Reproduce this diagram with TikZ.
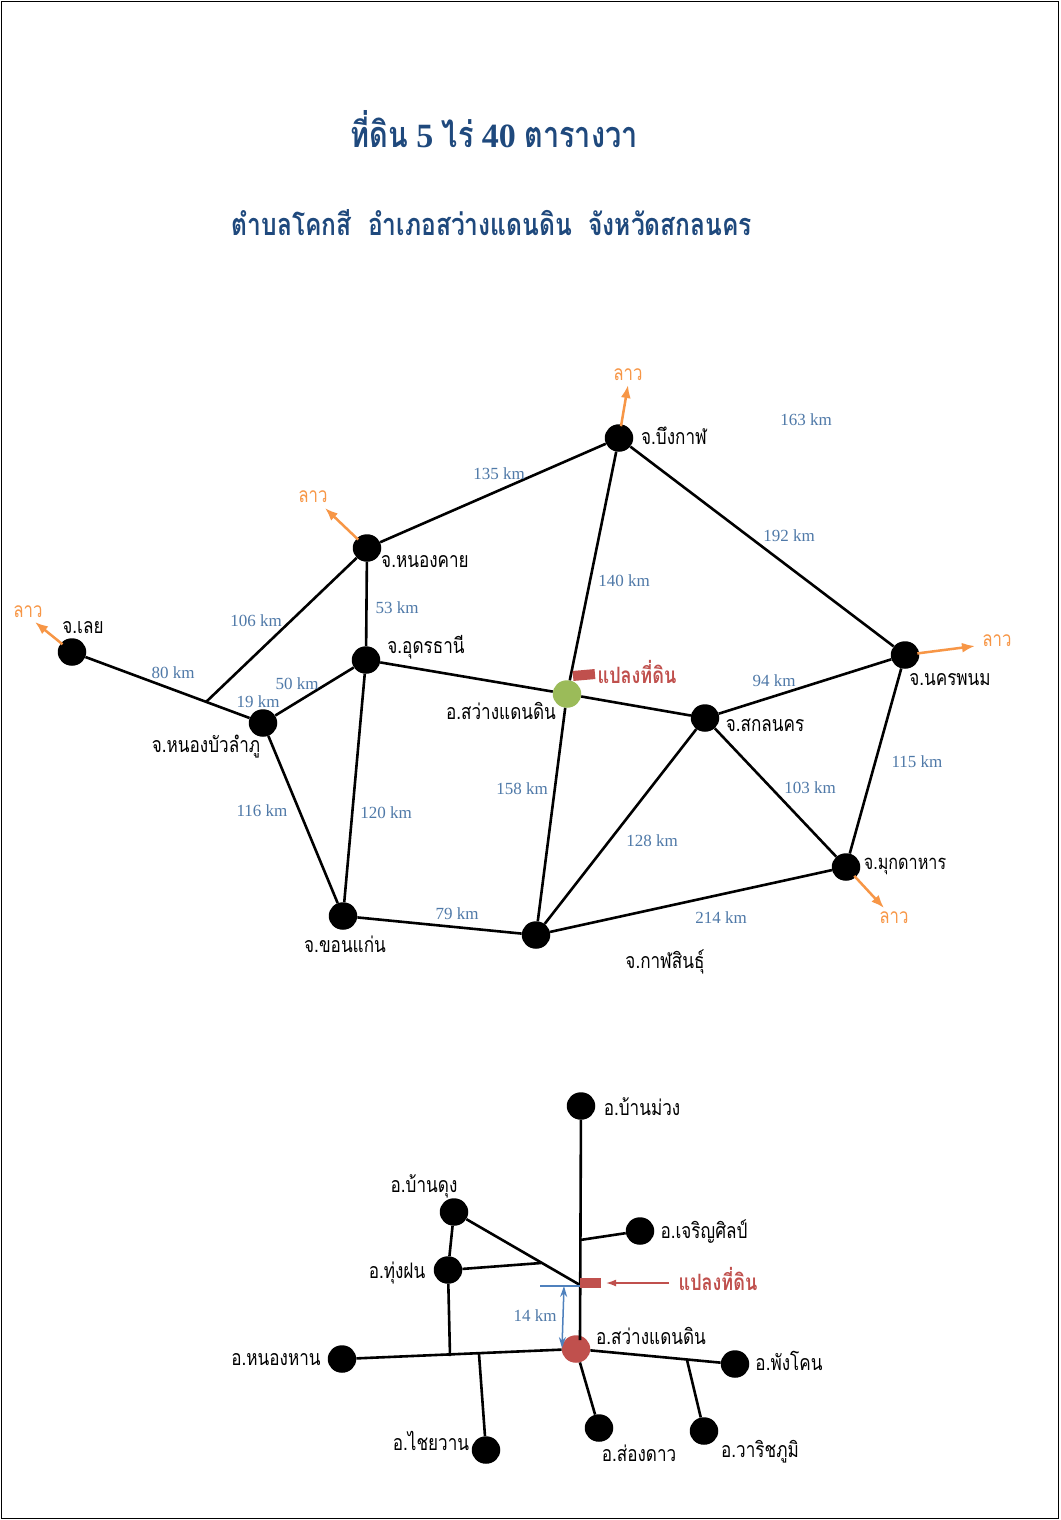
\documentclass[tikz,border=0pt]{standalone}
\usepackage{fontspec}
\usetikzlibrary{shapes.geometric,arrows.meta}
\setmainfont{Liberation Serif}
\newfontfamily\thaifont[Script=Thai,FakeStretch=0.8]{Loma}
\definecolor{navy}{HTML}{1F497D}
\definecolor{kmblue}{HTML}{4F79A8}
\definecolor{laoor}{HTML}{F79646}
\definecolor{landred}{HTML}{C0504D}
\definecolor{sitegreen}{HTML}{9BBB59}
\definecolor{arrowblue}{HTML}{4F81BD}
\tikzset{
  dot/.style={ellipse,fill=black,inner sep=0pt,minimum width=28.5pt,minimum height=27.5pt},
  road/.style={draw=black,line width=2.6pt},
  km/.style={inner sep=0pt,text=kmblue,font=\fontsize{17}{17}\selectfont},
  place/.style={inner sep=0pt,text=black,font=\thaifont\fontsize{21.4}{23}\selectfont},
  lao/.style={inner sep=0pt,text=laoor,font=\thaifont\fontsize{21}{23}\selectfont},
  landtext/.style={inner sep=0pt,text=landred,font=\thaifont\bfseries\fontsize{22.5}{24}\selectfont},
  laoarrow/.style={draw=laoor,line width=2.5pt,-{Latex[length=13pt,width=10pt]},shorten <=-2pt},
  plot/.style={fill=landred,inner sep=0pt,minimum width=22pt,minimum height=10pt},
}
\begin{document}
\begin{tikzpicture}[x=1pt,y=-1pt]
\useasboundingbox (0,0) rectangle (1060,1520);
\fill[white] (0,0) rectangle (1060,1520);
\node[draw=black,line width=1.2pt,minimum width=1057pt,minimum height=1517pt,inner sep=0pt,anchor=north west] (frame) at (0.6,0.6) {};
% titles
\node[inner sep=0pt,text=navy,font=\bfseries\fontsize{34}{36}\selectfont] (title) at (494,129)
  {{\thaifont\fontsize{36}{38}\selectfont ที่ดิน} 5 {\thaifont\fontsize{36}{38}\selectfont ไร่} 40 {\thaifont\fontsize{36}{38}\selectfont ตารางวา}};
\node[inner sep=0pt,text=navy,font=\thaifont\bfseries\fontsize{30.7}{32}\selectfont] (subtitle) at (492,223)
  {ตำบลโคกสี\ \ อำเภอสว่างแดนดิน\ \ จังหวัดสกลนคร};
% upper map nodes
\node[dot] (bk) at (619,438) {};
\node[dot] (hnk) at (367,548) {};
\node[dot] (ud) at (366,660) {};
\node[dot] (loei) at (72,652) {};
\node[dot] (nbl) at (263,723) {};
\node[dot] (kk) at (343,916) {};
\node[dot] (ks) at (536,935) {};
\node[dot,fill=sitegreen] (sw) at (567,694) {};
\node[dot] (sk) at (705,718) {};
\node[dot] (np) at (905,655) {};
\node[dot] (mk) at (846,867) {};
\coordinate (j1) at (206,702);
% upper roads
\foreach \a/\b in {bk/hnk,bk/sw,bk/np,hnk/j1,hnk/ud,ud/nbl,ud/sw,ud/kk,loei/nbl,nbl/kk,kk/ks,ks/sw,ks/sk,ks/mk,sw/sk,sk/np,sk/mk,np/mk}
  \draw[road] (\a) -- (\b);
% Laos arrows
\coordinate (abk) at (628,385);
\coordinate (ahnk) at (325,508);
\coordinate (aloei) at (35,622);
\coordinate (anp) at (975,646);
\coordinate (amk) at (884,908);
\foreach \a/\b in {bk/abk,hnk/ahnk,loei/aloei,np/anp,mk/amk}
  \draw[laoarrow] (\a) -- (\b);
\node[lao] (l1) at (628,375) {ลาว};
\node[lao] (l2) at (313,497) {ลาว};
\node[lao] (l3) at (28,612) {ลาว};
\node[lao] (l4) at (997,641) {ลาว};
\node[lao] (l5) at (894,918) {ลาว};
% distances
\node[km] (k1) at (499,474) {135 km};
\node[km] (k2) at (806,420) {163 km};
\node[km] (k3) at (789,536) {192 km};
\node[km] (k4) at (624,581) {140 km};
\node[km] (k5) at (256,621) {106 km};
\node[km] (k6) at (397,608) {53 km};
\node[km] (k7) at (173,673) {80 km};
\node[km] (k8) at (297,684) {50 km};
\node[km] (k9) at (258,702) {19 km};
\node[km] (k10) at (774,681) {94 km};
\node[km] (k11) at (522,789) {158 km};
\node[km] (k12) at (386,813) {120 km};
\node[km] (k13) at (262,811) {116 km};
\node[km] (k14) at (652,841) {128 km};
\node[km] (k15) at (810,788) {103 km};
\node[km] (k16) at (917,762) {115 km};
\node[km] (k17) at (457,914) {79 km};
\node[km] (k18) at (721,918) {214 km};
% upper names
\node[place] (n1) at (674,436) {จ.บึงกาฬ};
\node[place] (n2) at (425,562) {จ.หนองคาย};
\node[place] (n3) at (426,647) {จ.อุดรธานี};
\node[place] (n4) at (83,628) {จ.เลย};
\node[place] (n5) at (206,747) {จ.หนองบัวลำภู};
\node[place] (n6) at (501,711) {อ.สว่างแดนดิน};
\node[place] (n7) at (765,725) {จ.สกลนคร};
\node[place] (n8) at (950,680) {จ.นครพนม};
\node[place,font=\thaifont\fontsize{20.2}{23}\selectfont] (n9) at (905,866) {จ.มุกดาหาร};
\node[place] (n10) at (665,962) {จ.กาฬสินธุ์};
\node[place] (n11) at (345,944) {จ.ขอนแก่น};
\node[plot,rotate=5] (plot1) at (584,675) {};
\node[landtext] (pt1) at (637,672) {แปลงที่ดิน};
% lower map nodes
\node[dot] (bm) at (581,1106) {};
\node[dot] (cs) at (640,1231) {};
\node[dot] (bd) at (454,1212) {};
\node[dot] (tf) at (448,1270) {};
\node[dot,fill=landred] (sd) at (576,1349) {};
\node[dot] (nh) at (342,1359) {};
\node[dot] (cw) at (486,1450) {};
\node[dot] (sg) at (599,1428) {};
\node[dot] (wp) at (704,1431) {};
\node[dot] (pk) at (735,1364) {};
\coordinate (j2) at (580,1240);
\coordinate (j3) at (580,1285);
\coordinate (j4) at (541,1263);
\coordinate (j5) at (450,1356);
\coordinate (j6) at (479,1354);
\coordinate (j7) at (687,1360);
\coordinate (j8) at (580,1340);
\foreach \a/\b in {bm/j8,cs/j2,bd/j3,bd/tf,tf/j4,tf/j5,nh/sd,j6/cw,sd/sg,sd/pk,j7/wp}
  \draw[road] (\a) -- (\b);
\node[plot,minimum width=21pt] (plot2) at (590.5,1283) {};
\node[landtext] (pt2) at (718,1279) {แปลงที่ดิน};
\coordinate (ra) at (669,1283);
\draw[draw=landred,line width=1.2pt,-{Latex[length=10pt,width=7pt]},shorten >=5pt] (ra) -- (plot2.east);
\coordinate (b1) at (540,1286);
\coordinate (b2) at (580,1286);
\coordinate (b3) at (564,1286);
\coordinate (b4) at (562,1348);
\draw[arrowblue,line width=1.2pt] (b1) -- (b2);
\draw[arrowblue,line width=1.5pt,{Stealth[length=11pt,width=7pt]}-{Stealth[length=11pt,width=7pt]}] (b3) -- (b4);
\node[km] (k19) at (535,1316) {14 km};
% lower names
\node[place] (m1) at (642,1107) {อ.บ้านม่วง};
\node[place] (m2) at (424,1186) {อ.บ้านดุง};
\node[place] (m3) at (704,1232) {อ.เจริญศิลป์};
\node[place] (m4) at (397,1273) {อ.ทุ่งฝน};
\node[place] (m5) at (651,1336) {อ.สว่างแดนดิน};
\node[place] (m6) at (789,1361) {อ.พังโคน};
\node[place] (m7) at (276,1360) {อ.หนองหาน};
\node[place] (m8) at (431,1441) {อ.ไชยวาน};
\node[place] (m9) at (639,1453) {อ.ส่องดาว};
\node[place] (m10) at (760,1452) {อ.วาริชภูมิ};
\end{tikzpicture}
\end{document}
